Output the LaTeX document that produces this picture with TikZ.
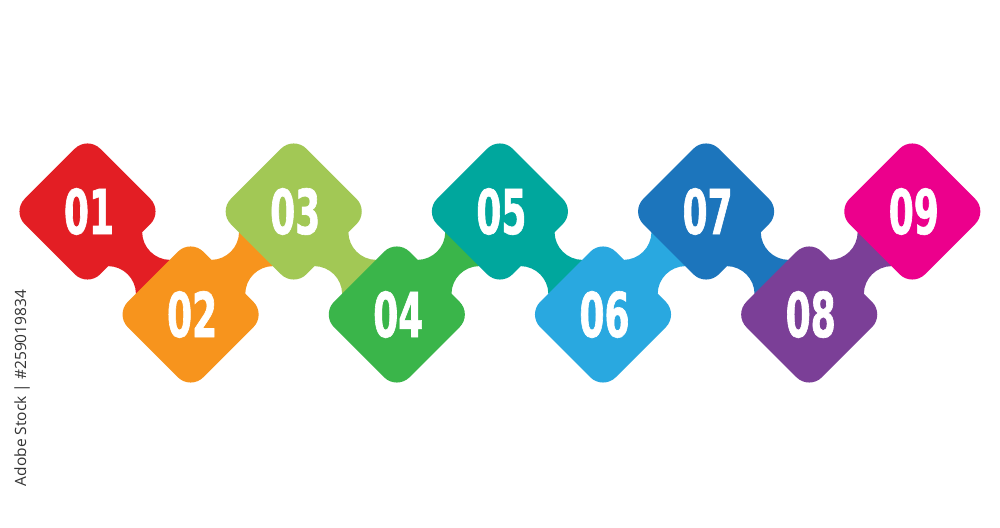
\documentclass[tikz,border=0pt]{standalone}
\usepackage{fontspec}
\usetikzlibrary{calc}
\newfontfamily\numfont{DejaVu Sans}[FakeStretch=0.58,FakeBold=1]
\newfontfamily\wmfont{Open Sans}
\definecolor{c1}{HTML}{E31E24}
\definecolor{c2}{HTML}{F7941D}
\definecolor{c3}{HTML}{A2C855}
\definecolor{c4}{HTML}{3AB54A}
\definecolor{c5}{HTML}{00A79D}
\definecolor{c6}{HTML}{29A8E0}
\definecolor{c7}{HTML}{1C75BC}
\definecolor{c8}{HTML}{7B3F97}
\definecolor{c9}{HTML}{EC008C}
\tikzset{
  tile/.style={rounded corners=18pt},
  num/.style={text=white, inner sep=0pt, font=\numfont\bfseries\fontsize{62}{62}\selectfont},
  wm/.style={text=black!80, inner sep=0pt, font=\wmfont\fontsize{15.5}{15.5}\selectfont}
}
\begin{document}
\begin{tikzpicture}[x=1pt,y=1pt]
\useasboundingbox (0,0) rectangle (1000,527);
\fill[white] (0,0) rectangle (1000,527);
\def\H{75.5}   % half diagonal of a tile
\def\g{19.5}   % half gap between facing sides
\def\R{28}     % radius of the neck's concave sides
\def\c{44}     % lateral offset of the arc centres
\def\e{16}     % how far the neck runs under the tiles
\pgfmathsetmacro\m{\c-sqrt(\R*\R-\g*\g)}
\pgfmathsetmacro\al{atan((\c-\m)/\g)}
% centres
\foreach \i in {1,...,9} {
  \pgfmathsetmacro\xx{87.5+(\i-1)*103.1}
  \pgfmathsetmacro\yy{isodd(\i) ? 315.5 : 212.5}
  \coordinate (p\i) at (\xx,\yy);
}
% tiles and connectors
\foreach \i in {1,...,9} {
  \fill[c\i, tile] (p\i) ++(-\H/2,\H/2) -- ++(\H/2,\H/2) -- ++(\H,-\H) -- ++(-\H,-\H) -- ++(-\H,\H) -- cycle;
  \ifnum\i<9
    \pgfmathtruncatemacro\j{\i+1}
    \pgfmathsetmacro\ang{isodd(\i) ? -45 : 45}
    \begin{scope}[shift={($(p\i)!0.5!(p\j)$)}, rotate=\ang]
      \fill[c\i] (-\g-\e,\m) -- (-\g,\m)
        arc[start angle=180+\al, end angle=360-\al, radius=\R]
        -- (\g+\e,\m) -- (\g+\e,-\m) -- (\g,-\m)
        arc[start angle=\al, end angle=180-\al, radius=\R]
        -- (-\g-\e,-\m) -- cycle;
    \end{scope}
  \fi
}
% labels
\foreach \i in {1,...,9} {
  \node[num] (t\i) at ($(p\i)+(1.5,0)$) {0\i};
}
\node[wm, rotate=90] (mark) at (22,139) {Adobe Stock | \#259019834};
\end{tikzpicture}
\end{document}
